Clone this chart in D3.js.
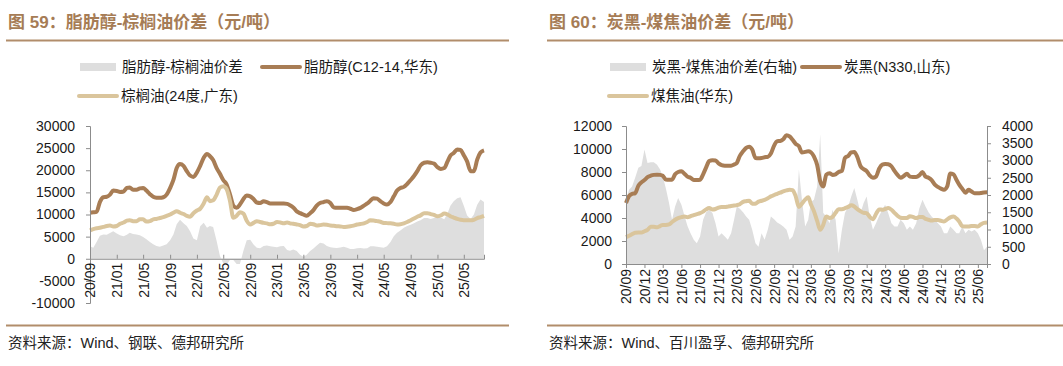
<!DOCTYPE html>
<html><head><meta charset="utf-8">
<script src="https://cdn.jsdelivr.net/npm/d3@7"></script>
<style>
html,body{margin:0;padding:0;background:#fff;}
svg{display:block;font-family:"Liberation Sans","Noto Sans CJK SC",sans-serif;}
</style></head><body>
<svg id="c" width="1063" height="366"></svg>
<script>
// ---------- Left chart data (half-month steps from 2020-09) ----------
const leftTitle = "图 59：脂肪醇-棕榈油价差（元/吨）";
const leftSource = "资料来源：Wind、钢联、德邦研究所";
const leftLegend = ["脂肪醇-棕榈油价差", "脂肪醇(C12-14,华东)", "棕榈油(24度,广东)"];
const leftYTicks = [-10000, -5000, 0, 5000, 10000, 15000, 20000, 25000, 30000];
const fattyAlcohol = [10400,10500,10600,12800,13900,14000,14500,15400,15300,15100,15200,16000,16100,15600,15600,15900,16000,15400,14600,14000,13800,13760,13900,14500,16000,17800,20500,21400,21000,19800,18800,18500,19500,21000,22800,23700,23200,22300,20500,19200,17800,16800,14500,12000,11500,12250,13500,14300,14100,13500,12700,12600,13000,12800,12500,12500,12500,12500,12500,12400,12100,11600,10700,10300,10000,9700,10300,11000,12000,12600,12800,13000,12600,11600,11500,11500,11500,11500,11300,11000,11200,11500,12000,12500,13100,13700,13600,13000,12500,12250,12800,14100,15400,16000,16250,16900,17800,18700,19800,21100,21700,21800,21700,21500,20700,20300,20500,22000,23300,23900,24700,24600,23400,22000,19800,19800,22400,24000,24500];
const palmOil = [6400,6700,6900,7000,7200,7400,7500,7300,7400,7900,8200,8600,8700,8500,8500,8900,8900,8400,8500,8900,9000,9200,9400,9700,10000,10400,10750,10400,10100,9700,9500,10300,10900,11300,12500,13900,13000,13200,14500,16100,16400,15800,13000,9250,9700,10500,10200,8600,7750,8100,8500,8300,8100,8000,7800,7900,8300,8200,8000,8200,8000,7900,7750,7600,7300,7400,7900,7800,7500,7600,7750,7700,7500,7450,7350,7300,7200,7250,7350,7500,7750,7850,8000,8300,8700,8650,8500,8350,8100,8050,8000,7900,7750,7800,8000,8300,8700,9100,9500,9800,10300,10300,10100,9900,9600,9800,10200,10000,9600,9300,9000,8800,8700,8700,8700,8800,9200,9400,9700];
const leftSpread = [2800,2500,3800,5200,5500,5400,5800,6240,5700,5300,5100,5400,5900,5600,5500,5300,4900,4400,3800,3300,2860,2700,3000,3300,4200,5500,7800,8800,8000,7400,6200,4600,4200,7370,8120,7000,7400,7200,4000,600,-1000,-1400,-200,-300,-1200,-1200,1800,4200,4300,3200,2500,2400,2900,3000,2800,2700,2600,2800,2900,2000,1800,2100,1730,900,450,900,1730,2300,3000,3600,3460,2860,2600,2500,2450,2550,2700,2500,2200,2200,2400,2450,2300,2400,2800,2800,2700,2600,2480,2800,3800,5100,5900,6400,7000,7400,7700,8000,8400,8700,9200,9200,9000,9200,9500,9300,8900,10300,12000,13000,13700,13900,12000,9800,9000,10000,12200,13400,12800];

// ---------- Right chart data (half-month steps from 2020-09) ----------
const rightTitle = "图 60：炭黑-煤焦油价差（元/吨）";
const rightSource = "资料来源：Wind、百川盈孚、德邦研究所";
const rightLegend = ["炭黑-煤焦油价差(右轴)", "炭黑(N330,山东)", "煤焦油(华东)"];
const rightYTicksL = [0, 2000, 4000, 6000, 8000, 10000, 12000];
const rightYTicksR = [0, 500, 1000, 1500, 2000, 2500, 3000, 3500, 4000];
const carbonBlack = [5300,5900,6100,6150,6800,7100,7300,7550,7680,7750,7770,7750,7680,7350,7330,7330,7800,8000,8060,7850,7600,7500,7300,7300,7330,7800,8400,8950,9020,9000,8750,8600,8550,8550,8550,8650,8790,9400,9800,10100,10200,9950,9220,9200,9220,9280,9320,9600,10300,10680,10700,10850,11200,11100,10800,10450,10250,9700,9750,9810,9720,9350,8600,7200,6750,7770,7900,7750,7800,8000,8100,9220,9400,9700,9750,9300,8500,8250,8080,7700,7500,7600,8300,8650,8700,8680,8500,8100,7750,7500,7650,7850,7600,7570,7570,7700,8000,7600,7500,7300,6900,6700,6550,6460,6750,7860,7800,7300,6900,6550,6200,6450,6300,6150,6150,6170,6220,6230];
const coalTar = [2330,2450,2600,2720,2740,2740,2850,2970,3250,3230,3200,3300,3400,3400,3450,3650,3850,3990,4080,4130,4070,4150,4250,4330,4420,4550,4750,4860,4740,4780,4900,4950,4950,4990,5050,5080,5120,5200,5400,5460,5500,5250,5250,5420,5500,5580,5720,5880,6000,6100,6200,6320,6400,6450,6420,5900,4950,5250,5600,5800,5200,4600,3750,2970,3400,4130,4000,4100,4450,4770,4770,4850,4970,5100,5000,4770,4580,4450,4420,4100,3900,4350,4750,4720,4780,4860,4720,4450,4200,4020,3990,4000,4150,4100,3990,4080,4080,3920,3850,3780,3820,3820,3760,3700,3880,4050,4130,3950,3700,3300,3260,3260,3300,3300,3260,3450,3580,3610];
const rightSpread = [1860,2150,2250,2500,2790,2840,3320,2930,2950,2950,2880,2740,2540,2200,1770,1280,1670,1910,1720,1400,1100,890,700,600,800,1280,1500,1570,1480,1180,800,890,800,700,890,1300,1670,1600,1500,1380,1280,990,600,500,890,700,1000,1380,1300,1200,1150,1090,990,700,800,1090,2740,1860,1090,1280,1800,1860,2250,3760,1480,1380,1180,1570,1280,310,990,1480,1670,1960,2200,1860,1480,1770,1960,1380,990,1180,1400,1570,1720,1480,1180,1090,1090,1280,1180,990,1090,990,1180,1600,1860,1670,1500,1380,1280,1180,1090,890,890,1090,990,890,890,1090,890,990,940,990,890,700,400,500];

const C = {brown:"#a87d55", light:"#dac59c", gray:"#dedede", title:"#a67c55", rule:"#b18d6b", axis:"#8c8c8c", text:"#1a1a1a"};
const svg = d3.select("#c");
const start = new Date(2020, 8, 1);
const halfMonthDates = n => d3.range(n).map(i => new Date(2020, 8 + Math.floor(i / 2), i % 2 ? 16 : 1));
const fmt = d3.timeFormat("%y/%m");
const numFmt = d => String(d);

function header(x0, x1, title) {
  svg.append("text").attr("x", x0 + 2).attr("y", 28).attr("fill", C.title)
    .attr("font-size", 17).attr("font-weight", "bold").text(title);
  svg.append("line").attr("x1", x0).attr("x2", x1).attr("y1", 40.5).attr("y2", 40.5)
    .attr("stroke", C.rule).attr("stroke-width", 2);
}
function footer(x0, x1, src) {
  svg.append("line").attr("x1", x0).attr("x2", x1).attr("y1", 325.5).attr("y2", 325.5)
    .attr("stroke", C.rule).attr("stroke-width", 2);
  svg.append("text").attr("x", x0 + 2).attr("y", 348).attr("fill", "#222")
    .attr("font-size", 14.5).text(src);
}
function legendItem(kind, x, y, label, color) {
  if (kind === "area") {
    svg.append("rect").attr("x", x).attr("y", y - 4).attr("width", 36).attr("height", 8).attr("fill", C.gray);
  } else {
    svg.append("line").attr("x1", x).attr("x2", x + 38).attr("y1", y).attr("y2", y)
      .attr("stroke", color).attr("stroke-width", 4).attr("stroke-linecap", "round");
  }
  svg.append("text").attr("x", x + 42).attr("y", y + 5).attr("font-size", 14.5).attr("fill", C.text).text(label);
}
function styleAxis(g) {
  g.selectAll(".domain").attr("stroke", C.axis);
  g.selectAll(".tick line").attr("stroke", C.axis);
  g.selectAll("text").attr("fill", C.text).attr("font-size", 14)
    .attr("font-family", "Liberation Sans, sans-serif");
}

// ================= LEFT CHART =================
header(6, 509, leftTitle);
legendItem("area", 80, 67, leftLegend[0]);
legendItem("line", 262, 67, leftLegend[1], C.brown);
legendItem("line", 79, 96, leftLegend[2], C.light);
footer(6, 509, leftSource);
{
  const dates = halfMonthDates(fattyAlcohol.length);
  const x = d3.scaleTime().domain([start, dates[dates.length - 1]]).range([90, 484]);
  const y = d3.scaleLinear().domain([-10000, 30000]).range([303, 126]);
  const area = d3.area().x((d, i) => x(dates[i])).y0(y(0)).y1(d => y(d));
  svg.append("path").datum(leftSpread).attr("d", area).attr("fill", C.gray);
  const line = d3.line().x((d, i) => x(dates[i])).y(d => y(d)).curve(d3.curveMonotoneX);
  svg.append("path").datum(fattyAlcohol).attr("d", line).attr("fill", "none")
    .attr("stroke", C.brown).attr("stroke-width", 4).attr("stroke-linejoin", "round");
  svg.append("path").datum(palmOil).attr("d", line).attr("fill", "none")
    .attr("stroke", C.light).attr("stroke-width", 4).attr("stroke-linejoin", "round");
  const gy = svg.append("g").attr("transform", "translate(90,0)")
    .call(d3.axisLeft(y).tickValues(leftYTicks).tickSize(4).tickPadding(11).tickFormat(numFmt));
  styleAxis(gy);
  const xt = d3.range(0, 57, 4).map(m => new Date(2020, 8 + m, 1));
  const gx = svg.append("g").attr("transform", `translate(0,${y(0)})`)
    .call(d3.axisBottom(x).tickValues(xt).tickSize(-4).tickFormat(fmt));
  styleAxis(gx);
  gx.selectAll("text").attr("transform", "rotate(-90)").attr("text-anchor", "end")
    .attr("x", -4).attr("y", 0).attr("dy", "0.35em");
}

// ================= RIGHT CHART =================
header(547, 1063, rightTitle);
legendItem("area", 610, 67, rightLegend[0]);
legendItem("line", 802, 67, rightLegend[1], C.brown);
legendItem("line", 609, 96, rightLegend[2], C.light);
footer(547, 1063, rightSource);
{
  const dates = halfMonthDates(carbonBlack.length);
  const x = d3.scaleTime().domain([start, dates[dates.length - 1]]).range([626, 987]);
  const yL = d3.scaleLinear().domain([0, 12000]).range([264, 126]);
  const yR = d3.scaleLinear().domain([0, 4000]).range([264, 126]);
  const area = d3.area().x((d, i) => x(dates[i])).y0(yR(0)).y1(d => yR(d));
  svg.append("path").datum(rightSpread).attr("d", area).attr("fill", C.gray);
  const line = d3.line().x((d, i) => x(dates[i])).y(d => yL(d)).curve(d3.curveMonotoneX);
  svg.append("path").datum(carbonBlack).attr("d", line).attr("fill", "none")
    .attr("stroke", C.brown).attr("stroke-width", 4).attr("stroke-linejoin", "round");
  svg.append("path").datum(coalTar).attr("d", line).attr("fill", "none")
    .attr("stroke", C.light).attr("stroke-width", 4).attr("stroke-linejoin", "round");
  const gl = svg.append("g").attr("transform", "translate(626,0)")
    .call(d3.axisLeft(yL).tickValues(rightYTicksL).tickSize(4).tickPadding(10).tickFormat(numFmt));
  styleAxis(gl);
  const gr = svg.append("g").attr("transform", "translate(987,0)")
    .call(d3.axisRight(yR).tickValues(rightYTicksR).tickSize(4).tickPadding(11).tickFormat(numFmt));
  styleAxis(gr);
  const xt = d3.range(0, 58, 3).map(m => new Date(2020, 8 + m, 1));
  const gx = svg.append("g").attr("transform", "translate(0,264)")
    .call(d3.axisBottom(x).tickValues(xt).tickSize(4).tickFormat(fmt));
  styleAxis(gx);
  gx.selectAll("text").attr("transform", "rotate(-90)").attr("text-anchor", "end")
    .attr("x", -5).attr("y", 0).attr("dy", "0.35em");
}
</script>
</body></html>
